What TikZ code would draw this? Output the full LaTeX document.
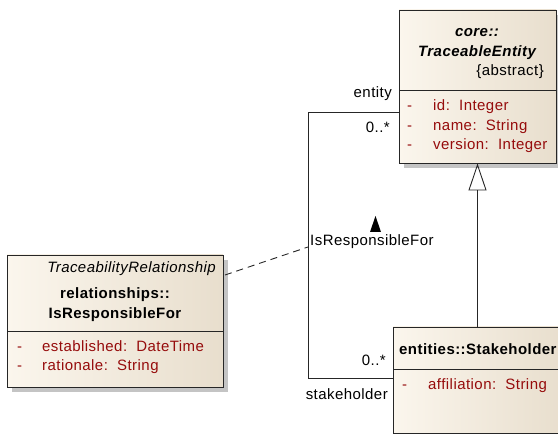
\documentclass[tikz,border=0pt]{standalone}
\usepackage{fontspec}
\setmainfont{Liberation Sans}[LetterSpace=3]
\usetikzlibrary{positioning, calc, arrows.meta}
\definecolor{umlFillL}{RGB}{251,246,237}
\definecolor{umlFillR}{RGB}{232,222,205}
\definecolor{umlShadow}{RGB}{196,196,196}
\definecolor{attrRed}{RGB}{150,12,12}
\newcommand{\umlfont}{\fontsize{15}{18}\selectfont}

\begin{document}
\begin{tikzpicture}[
          x=1pt, y=-1pt,
          font=\umlfont,
          classbox/.style={draw=black!85, line width=0.9pt, left color=umlFillL, right color=umlFillR, inner sep=0pt},
          shadowbox/.style={fill=umlShadow},
          sepline/.style={draw=black!85, line width=0.9pt},
          hdr/.style={font=\umlfont\bfseries, anchor=base, inner sep=0pt},
          hdrit/.style={font=\umlfont\bfseries\itshape, anchor=base, inner sep=0pt},
          stereo/.style={font=\umlfont\itshape, anchor=base east, inner sep=0pt},
          attr/.style={text=attrRed, anchor=base west, inner sep=0pt},
          rolelbl/.style={anchor=base east, inner sep=0pt},
          assoc/.style={draw=black!85, line width=0.9pt},
          gen/.style={draw=black!85, line width=0.9pt, -{Triangle[open, width=18pt, length=27pt]}}
        ]
          \useasboundingbox (0,0) rectangle (558,435);

          \fill[shadowbox] (404,15) rectangle (561,168);
          \node[classbox, minimum width=157pt, minimum height=153pt] (te) at (477.5,86.5) {};
          \draw[sepline] (399,90) -- (556,90);
          \node[hdrit] (teNs) at (477,37) {core::};
          \node[hdrit] (teName) at (477,57) {TraceableEntity};
          \node[anchor=base east, inner sep=0pt] (teAbs) at (544,76) {\{abstract\}};
          \node[attr] at (407,111) {-};
          \node[attr] (teId) at (433,111) {id:\ \ Integer};
          \node[attr] at (407,131) {-};
          \node[attr] (teName) at (433,131) {name:\ \ String};
          \node[attr] at (407,150) {-};
          \node[attr] (teVer) at (433,150) {version:\ \ Integer};

          \fill[shadowbox] (12,260) rectangle (228,392);
          \node[classbox, minimum width=216pt, minimum height=132pt] (irf) at (115,321) {};
          \draw[sepline] (7,331) -- (223,331);
          \node[stereo] (irfSt) at (216,273) {TraceabilityRelationship};
          \node[hdr] (irfNs) at (115,299) {relationships::};
          \node[hdr] (irfName) at (115,319) {IsResponsibleFor};
          \node[attr] at (17,352) {-};
          \node[attr] (irfEst) at (42,352) {established:\ \ DateTime};
          \node[attr] at (17,371) {-};
          \node[attr] (irfRat) at (42,371) {rationale:\ \ String};

          \node[classbox, minimum width=170pt, minimum height=106pt] (sh) at (478,380) {};
          \draw[sepline] (393,369) -- (563,369);
          \node[hdr, anchor=base west] (shName) at (399,355) {entities::Stakeholder};
          \node[attr] at (402,390) {-};
          \node[attr] (shAff) at (428,390) {affiliation:\ \ String};

          \draw[gen] (sh.north -| te.south) -- (te.south);

          \coordinate (entEnd) at (399,112);
          \coordinate (shEnd) at (393,378);
          \coordinate (assocMid) at (308,247);
          \coordinate (irfEnd) at (225,275);
          \draw[assoc] (entEnd) -- (308,112) |- (shEnd);
          \draw[assoc, dashed, dash pattern=on 7pt off 5pt] (irfEnd) -- (assocMid);

          \node[rolelbl] (entLbl) at (392,98) {entity};
          \node[rolelbl] (entMul) at (390,133) {0..*};
          \node[rolelbl] (shMul) at (386,366) {0..*};
          \node[rolelbl] (shLbl) at (388,400) {stakeholder};
          \node[anchor=base west, inner sep=0pt] (assocLbl) at (310,246) {IsResponsibleFor};
          \fill (375.5,216) -- (370,232) -- (381,232) -- cycle;
        \end{tikzpicture}
\end{document}
